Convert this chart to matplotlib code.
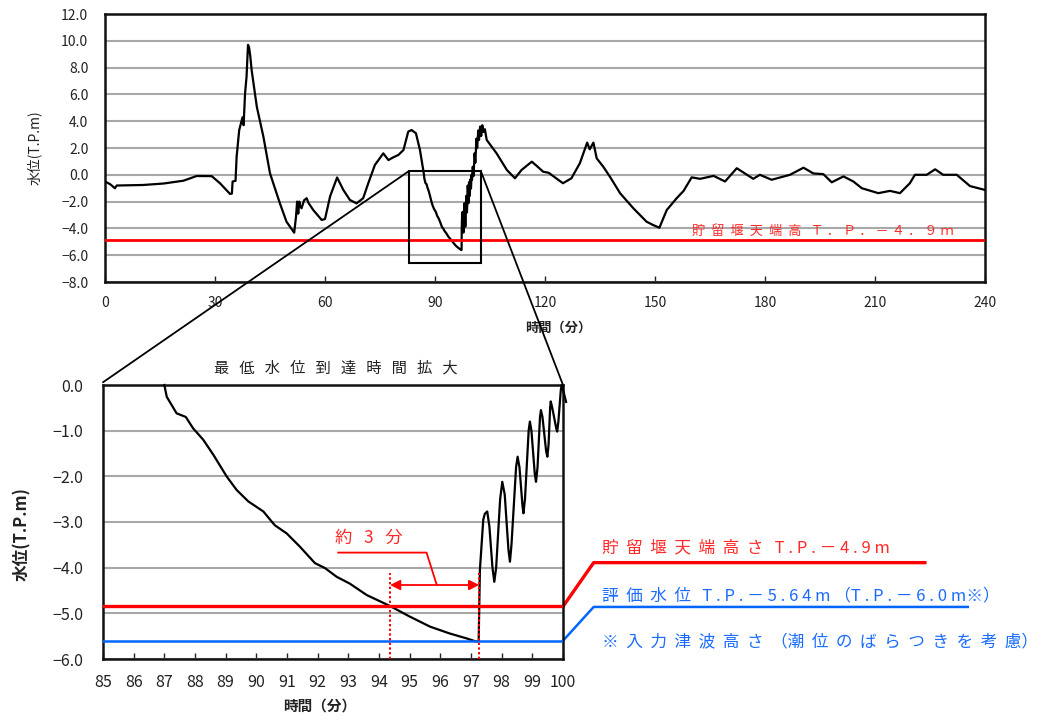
import numpy as np
import matplotlib
matplotlib.use('Agg')
import matplotlib.pyplot as plt
from matplotlib.patches import Rectangle, ConnectionPatch
from matplotlib.ticker import FuncFormatter

plt.rcParams['font.family'] = ['Noto Sans CJK JP', 'DejaVu Sans']

# whole record (minutes, T.P.m)
t_before = [0, 1.4, 2.7, 3.2, 10.4, 16, 21.4, 25, 29.1, 31.4, 34.1, 34.6, 34.8, 35.6, 35.9,
            36.6, 37.5, 37.8, 38.2, 38.6, 39.0, 39.3, 39.6, 40.0, 41.4, 43.2, 45.0, 47.7,
            49.5, 51.6, 52.1, 52.4, 52.7, 53.0, 53.2, 53.6, 54.3, 55.0, 55.5, 56.8, 59.1,
            60.0, 61.4, 63.3, 65.0, 66.8, 68.6, 70.4, 71.8, 73.6, 75.9, 77.3, 78.6, 80.0,
            81.4, 82.7, 83.6, 84.8, 85.9]
v_before = [-0.5, -0.7, -1.0, -0.8, -0.76, -0.65, -0.44, -0.09, -0.1, -0.64, -1.43, -1.4,
            -0.5, -0.45, 1.35, 3.34, 4.29, 3.7, 6.08, 7.3, 9.7, 9.5, 8.9, 7.8, 5.08, 2.84,
            0.11, -2.13, -3.5, -4.32, -3.1, -2.0, -2.9, -2.0, -2.3, -2.5, -1.9, -1.75, -2.1,
            -2.63, -3.37, -3.3, -1.6, -0.2, -1.13, -1.88, -2.13, -1.75, -0.63, 0.73, 1.6,
            1.1, 1.3, 1.48, 1.85, 3.22, 3.34, 3.1, 1.85]

t_after = [100.3, 100.5, 100.8, 101.0, 101.3, 101.5, 101.8, 102.0, 102.3, 102.6, 102.9,
           103.2, 103.6, 104.1, 106.8, 109.6, 111.8, 113.6, 116.4, 118, 119.5, 121, 124.9,
           127.2, 129.5, 131.5, 132.2, 133.2, 134.1, 135.9, 137.7, 140.5, 144.1, 147.7,
           149.5, 151.2, 153.2, 155.9, 157.8, 160.0, 162.3, 166.0, 169.1, 172.3, 176.8,
           178.6, 181.8, 186.8, 190.5, 193.2, 195.9, 198.2, 201.4, 204.1, 206.4, 210.9,
           214.1, 216.8, 219.5, 220.9, 224.1, 226.4, 228.6, 232.3, 235.9, 240.0]
v_after = [0.6, -0.1, 1.6, 0.9, 2.7, 2.0, 3.3, 2.6, 3.6, 2.9, 3.7, 3.2, 3.4, 2.6, 1.6, 0.36,
           -0.26, 0.36, 0.98, 0.6, 0.23, 0.15, -0.63, -0.26, 0.86, 2.4, 1.9, 2.4, 1.23, 0.6,
           -0.14, -1.38, -2.5, -3.5, -3.75, -3.95, -2.63, -1.75, -1.2, -0.19, -0.3, -0.08,
           -0.5, 0.49, -0.3, 0.0, -0.37, 0.0, 0.53, 0.1, 0.05, -0.56, -0.12, -0.5, -1.0,
           -1.37, -1.2, -1.37, -0.63, 0.0, 0.0, 0.41, 0.0, 0.0, -0.84, -1.13]

# detail around the lowest level
t_zoom = [87.0, 87.08, 87.4, 87.7, 87.94, 88.27, 88.6, 89.03, 89.36, 89.74, 90.23, 90.6,
          90.99, 91.42, 91.91, 92.24, 92.62, 93.05, 93.6, 94.36, 95.0, 95.66, 96.3, 96.86,
          97.18, 97.25, 97.29, 97.4, 97.45, 97.53, 97.6, 97.7, 97.76, 97.82, 97.95, 98.02,
          98.1, 98.22, 98.27, 98.32, 98.47, 98.52, 98.58, 98.68, 98.71, 98.76, 98.88, 98.92,
          98.97, 99.08, 99.12, 99.17, 99.25, 99.28, 99.33, 99.45, 99.49, 99.53, 99.58,
          99.6, 99.65, 99.78, 99.81, 99.85, 99.93, 99.96, 100.0, 100.1]
v_zoom = [0.0, -0.26, -0.62, -0.7, -0.95, -1.2, -1.53, -2.0, -2.3, -2.55, -2.77, -3.07,
          -3.25, -3.54, -3.9, -4.01, -4.2, -4.35, -4.6, -4.84, -5.07, -5.29, -5.44, -5.55,
          -5.62, -5.6, -4.05, -2.95, -2.82, -2.77, -3.1, -4.0, -4.31, -4.0, -2.5, -2.12,
          -2.4, -3.6, -3.87, -3.5, -1.8, -1.57, -1.8, -2.65, -2.81, -2.5, -1.0, -0.8, -1.0,
          -1.95, -2.12, -1.8, -0.7, -0.55, -0.7, -1.45, -1.57, -1.3, -0.5, -0.36, -0.5,
          -0.95, -1.02, -0.8, -0.1, 0.0, -0.1, -0.37]

weir_level = -4.85      # 貯留堰天端高
eval_level = -5.6       # 評価水位
t_reach = [94.36, 97.27]  # 約3分

W, H = 1048, 721
fig = plt.figure(figsize=(W / 100, H / 100), dpi=100)
ax1 = fig.add_axes([105 / W, 1 - 282 / H, 880 / W, 268 / H])
ax2 = fig.add_axes([103 / W, 1 - 659 / H, 460 / W, 274 / H])

grid_c = '#a8a8a8'
txt_c = '#222222'
red_t = '#ff2a2a'
blue_t = '#1a6cff'
minus_fmt = FuncFormatter(lambda v, p: f'{v:.1f}'.replace('-', '\u2212'))

# ---- top: full record
t_all = t_before + t_zoom + t_after
v_all = v_before + v_zoom + v_after
ax1.plot(t_all, v_all, color='black', lw=1.6, solid_joinstyle='round', zorder=3)
ax1.axhline(weir_level, color='#ff0000', lw=2.0, zorder=4)
ax1.set_xlim(0, 240)
ax1.set_ylim(-8, 12)
ax1.set_xticks(np.arange(0, 241, 30))
ax1.set_yticks(np.arange(-8, 12.1, 2))
ax1.yaxis.set_major_formatter(minus_fmt)
ax1.grid(axis='y', color=grid_c, lw=1.5)
ax1.set_axisbelow(True)
ax1.tick_params(axis='x', direction='in', length=4, width=1, pad=10, labelsize=10, colors=txt_c)
ax1.tick_params(axis='y', length=0, pad=12, labelsize=10, colors=txt_c)
ax1.set_ylabel('水位(T.P.m)', fontsize=10, color=txt_c)
ax1.yaxis.set_label_coords(-0.072, 0.5)
ax1.set_xlabel('時間（分）', fontsize=9.5, fontweight='bold', color=txt_c)
ax1.xaxis.set_label_coords(0.515, -0.145)
ax1.text(160.2, weir_level + 0.6, '貯  留  堰  天  端  高   Ｔ ． Ｐ ． － ４ ． ９ ｍ',
         color=red_t, fontsize=9.5, va='center', ha='left', zorder=5)

# zoom window
ax1.add_patch(Rectangle((82.9, -6.6), 19.6, 6.88, fill=False, ec='black', lw=1.5,
                        zorder=6, clip_on=False))

# ---- bottom: detail
ax2.plot(t_zoom, v_zoom, color='black', lw=1.6, solid_joinstyle='round', zorder=3,
         clip_on=False)
ax2.axhline(weir_level, color='#ff0000', lw=2.4, zorder=4)
ax2.axhline(eval_level, color='#0066ff', lw=1.8, zorder=4)
ax2.set_xlim(85, 100)
ax2.set_ylim(-6, 0)
ax2.set_xticks(np.arange(85, 101, 1))
ax2.set_yticks(np.arange(-6, 0.1, 1))
ax2.yaxis.set_major_formatter(minus_fmt)
ax2.grid(axis='y', color=grid_c, lw=1.5)
ax2.set_axisbelow(True)
ax2.tick_params(axis='x', direction='in', length=4, width=1, pad=11, labelsize=11.5, colors=txt_c)
ax2.tick_params(axis='y', length=0, pad=14, labelsize=11.5, colors=txt_c)
ax2.set_ylabel('水位(T.P.m)', fontsize=12, fontweight='bold', color=txt_c)
ax2.yaxis.set_label_coords(-0.157, 0.456)
ax2.set_xlabel('時間（分）', fontsize=10.5, fontweight='bold', color=txt_c)
ax2.xaxis.set_label_coords(0.47, -0.14)
ax2.set_title('最   低   水   位   到   達   時   間   拡   大', fontsize=11, color=txt_c,
              pad=9, x=0.507)

for ax in (ax1, ax2):
    for s in ax.spines.values():
        s.set_color('#111111')
        s.set_linewidth(1.8)

# about 3 minutes
for tr in t_reach:
    ax2.plot([tr, tr], [-6, -4.12], color='#ff0000', lw=1.4, ls=(0, (1.2, 1.2)), zorder=5)
ax2.annotate('', xy=(t_reach[0], -4.38), xytext=(t_reach[1], -4.38),
             arrowprops=dict(arrowstyle='<|-|>', color='#ff0000', lw=1.3, mutation_scale=15,
                             shrinkA=0, shrinkB=0), zorder=5)
ax2.plot([95.88, 95.55, 92.67], [-4.37, -3.67, -3.67], color='#ff0000', lw=1.3, zorder=5)
ax2.text(92.57, -3.35, '約   3   分', color=red_t, fontsize=12.5, va='center', ha='left')

# legend style leaders outside the axes
ax2.plot([100, 101.0, 111.8], [weir_level, -3.89, -3.89], color='#ff0000', lw=2.4,
         clip_on=False)
ax2.plot([100, 101.0, 113.2], [eval_level, -4.86, -4.86], color='#0066ff', lw=1.8,
         clip_on=False)
ax2.text(101.27, -3.57, '貯  留  堰  天  端  高  さ   T . P . － 4 . 9 m', color=red_t,
         fontsize=12, va='center', ha='left', clip_on=False)
ax2.text(101.27, -4.62, '評  価  水  位   T . P . － 5 . 6 4 m （T . P . － 6 . 0 m※）',
         color=blue_t, fontsize=12, va='center', ha='left', clip_on=False)
ax2.text(101.27, -5.62, '※  入  力  津  波  高  さ  （潮  位  の  ば  ら  つ  き  を  考  慮）',
         color=blue_t, fontsize=12, va='center', ha='left', clip_on=False)

# link the window to the detail
for xa, xb in ((82.9, 0.0), (102.5, 1.0)):
    con = ConnectionPatch(xyA=(xa, 0.28), coordsA=ax1.transData,
                          xyB=(xb, 1.01 if xb == 0 else 1.0), coordsB=ax2.transAxes,
                          color='black', lw=1.3, zorder=10)
    fig.add_artist(con)

fig.savefig('out.png', dpi=100)
